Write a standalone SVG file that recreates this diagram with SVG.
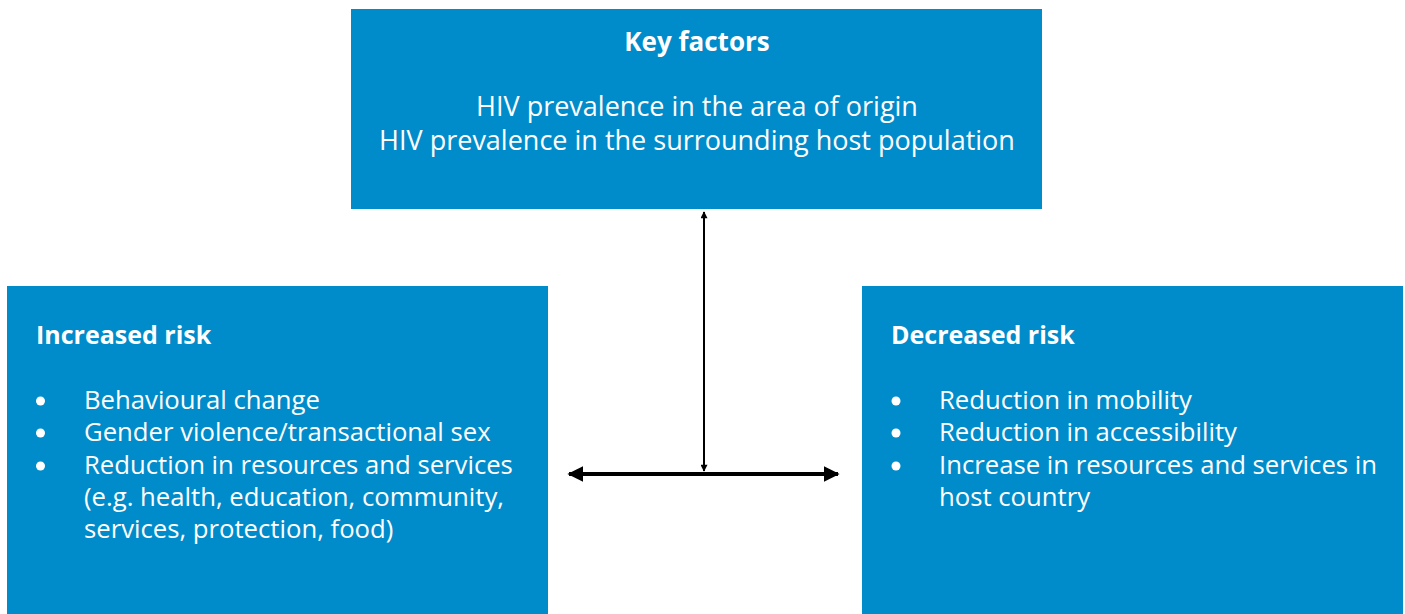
<svg xmlns="http://www.w3.org/2000/svg" width="1405" height="614" viewBox="0 0 1405 614">
<style>
.box{fill:#008ccb}
.t{font-family:"Open Sans",Lato,sans-serif;fill:#fff;font-size:25.7px}
.k{font-size:27px}
.b{font-weight:bold;font-size:25px}
.kb{font-size:26px}
.dot{fill:#fff}
.ln{stroke:#000;fill:none}
</style>
<defs>
<marker id="a1" viewBox="0 0 10 10" refX="9" refY="5" markerWidth="8" markerHeight="7" orient="auto-start-reverse" markerUnits="userSpaceOnUse"><path d="M0,0L10,5L0,10z" fill="#000"/></marker>
<marker id="a2" viewBox="0 0 10 10" refX="9" refY="5" markerWidth="16" markerHeight="20" orient="auto-start-reverse" markerUnits="userSpaceOnUse"><path d="M0,0L10,5L0,10z" fill="#000"/></marker>
</defs>
<g id="key-factors">
<rect class="box" x="351" y="9" width="691" height="200"/>
<text class="t b kb" x="697" y="51" text-anchor="middle">Key factors</text>
<text class="t k" x="697" y="116" text-anchor="middle">HIV prevalence in the area of origin</text>
<text class="t k" x="697" y="150" text-anchor="middle">HIV prevalence in the surrounding host population</text>
</g>
<g id="increased-risk">
<rect class="box" x="7" y="286" width="541" height="328"/>
<text class="t b" x="36" y="344">Increased risk</text>
<circle class="dot" cx="40.5" cy="401" r="4.5"/>
<circle class="dot" cx="40.5" cy="433" r="4.5"/>
<circle class="dot" cx="40.5" cy="466" r="4.5"/>
<text class="t" x="84" y="409">Behavioural change</text>
<text class="t" x="84" y="441">Gender violence/transactional sex</text>
<text class="t" x="84" y="474">Reduction in resources and services</text>
<text class="t" x="84" y="506">(e.g. health, education, community,</text>
<text class="t" x="84" y="538">services, protection, food)</text>
</g>
<g id="decreased-risk">
<rect class="box" x="862" y="286" width="541" height="328"/>
<text class="t b" x="891" y="344">Decreased risk</text>
<circle class="dot" cx="896" cy="401" r="4.5"/>
<circle class="dot" cx="896" cy="433" r="4.5"/>
<circle class="dot" cx="896" cy="466" r="4.5"/>
<text class="t" x="939" y="409">Reduction in mobility</text>
<text class="t" x="939" y="441">Reduction in accessibility</text>
<text class="t" x="939" y="474">Increase in resources and services in</text>
<text class="t" x="939" y="506">host country</text>
</g>
<g id="connectors">
<line class="ln" x1="704" y1="212" x2="704" y2="471" stroke-width="2" marker-start="url(#a1)" marker-end="url(#a1)"/>
<line class="ln" x1="569" y1="474" x2="838" y2="474" stroke-width="4" marker-start="url(#a2)" marker-end="url(#a2)"/>
</g>
</svg>
